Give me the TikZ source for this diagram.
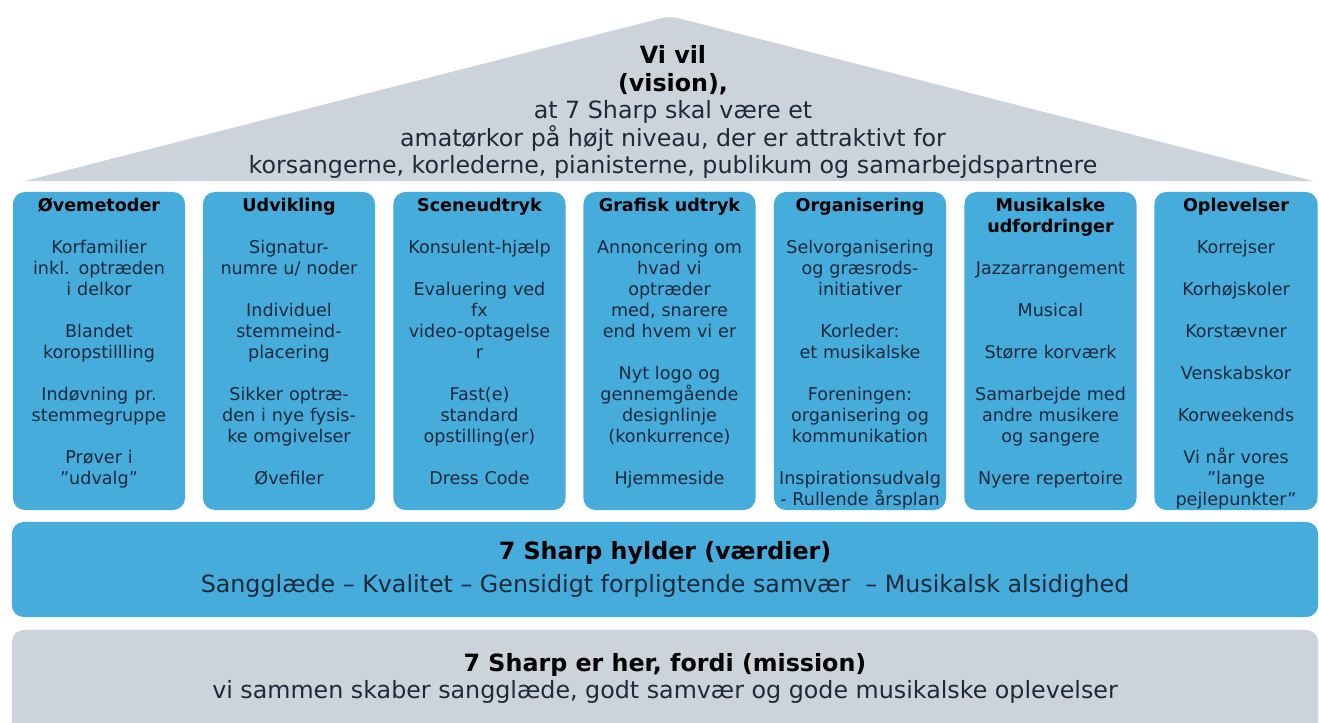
\documentclass[tikz,border=0pt]{standalone}
\usepackage{fontspec}
\setmainfont{DejaVu Sans}
\usepackage{tikz}
\usetikzlibrary{positioning}
\definecolor{pillarblue}{RGB}{70,172,220}
\definecolor{roofgray}{RGB}{205,211,218}
\definecolor{inkc}{RGB}{30,42,58}
\newcommand{\colgap}{\\[14.94pt]}
\newcommand{\coltitle}[1]{\rule{0pt}{12pt}\textbf{\color{black}#1}}

\begin{document}
\begin{tikzpicture}[x=0.025cm, y=-0.025cm,
  pillar/.style={fill=pillarblue, rounded corners=0.3cm, minimum height=7.95cm, inner sep=0pt},
  pillartext/.style={text width=4.3cm, align=center, inner sep=0pt, text=inkc, font=\fontsize{12.5}{14.94}\selectfont},
  bigtext/.style={align=center, inner sep=0pt, text=inkc, font=\fontsize{16.9}{19.56}\selectfont}]
%%%%% Frame %%%%%
\useasboundingbox[fill=white] (0,0) rectangle (1319,722);
%%%%% Roof %%%%%
\fill[roofgray] (25,181) [rounded corners=6pt] -- (670,16) [sharp corners] -- (1313,181) -- cycle;
\node[bigtext] (vision) at (673,112) {\textbf{\color{black}Vi vil}\\ \textbf{\color{black}(vision),}\\ at 7 Sharp skal være et\\ amatørkor på højt niveau, der er attraktivt for\\ korsangerne, korlederne, pianisterne, publikum og samarbejdspartnere};
%%%%% Pillars %%%%%
\foreach \i/\cx/\w in {1/99/4.3, 2/289/4.3, 3/479.5/4.3, 4/669.5/4.3, 5/860/4.3, 6/1050.5/4.3, 7/1236/4.075}{
\node[pillar, minimum width=\w cm] (col\i) at (\cx,351) {};
}
\node[pillartext, below=0.06cm of col1.north] (t1) {\coltitle{Øvemetoder}\colgap Korfamilier\\ inkl. optræden\\ i delkor\colgap Blandet\\ koropstillling\colgap Indøvning pr.\\ stemmegruppe\colgap Prøver i\\ ”udvalg”};
\node[pillartext, below=0.06cm of col2.north] (t2) {\coltitle{Udvikling}\colgap Signatur-\\ numre u/ noder\colgap Individuel\\ stemmeind-\\ placering\colgap Sikker optræ-\\ den i nye fysis-\\ ke omgivelser\colgap Øvefiler};
\node[pillartext, below=0.06cm of col3.north] (t3) {\coltitle{Sceneudtryk}\colgap Konsulent-hjælp\colgap Evaluering ved\\ fx\\ video-optagelse\\ r\colgap Fast(e)\\ standard\\ opstilling(er)\colgap Dress Code};
\node[pillartext, below=0.06cm of col4.north] (t4) {\coltitle{Grafisk udtryk}\colgap Annoncering om\\ hvad vi\\ optræder\\ med, snarere\\ end hvem vi er\colgap Nyt logo og\\ gennemgående\\ designlinje\\ (konkurrence)\colgap Hjemmeside};
\node[pillartext, below=0.06cm of col5.north] (t5) {\coltitle{Organisering}\colgap Selvorganisering\\ og græsrods-\\ initiativer\colgap Korleder:\\ et musikalske\colgap Foreningen:\\ organisering og\\ kommunikation\colgap Inspirationsudvalg\\ - Rullende årsplan};
\node[pillartext, below=0.06cm of col6.north] (t6) {\coltitle{Musikalske}\\ \textbf{\color{black}udfordringer}\colgap Jazzarrangement\colgap Musical\colgap Større korværk\colgap Samarbejde med\\ andre musikere\\ og sangere\colgap Nyere repertoire};
\node[pillartext, text width=4.075cm, below=0.06cm of col7.north] (t7) {\coltitle{Oplevelser}\colgap Korrejser\colgap Korhøjskoler\colgap Korstævner\colgap Venskabskor\colgap Korweekends\colgap Vi når vores\\ ”lange\\ pejlepunkter”};
%%%%% Values %%%%%
\node[pillar, minimum width=32.65cm, minimum height=2.375cm] (values) at (665,569.5) {};
\node[bigtext] (valtext) at (values.center) {\textbf{\color{black}7 Sharp hylder (værdier)}\\[3.9pt] Sangglæde – Kvalitet – Gensidigt forpligtende samvær\ \ – Musikalsk alsidighed};
%%%%% Mission %%%%%
\node[pillar, fill=roofgray, minimum width=32.65cm, minimum height=2.75cm] (mission) at (665,685) {};
\node[bigtext] (mistext) at (665,678.5) {\textbf{\color{black}7 Sharp er her, fordi (mission)}\\ vi sammen skaber sangglæde, godt samvær og gode musikalske oplevelser};
\end{tikzpicture}
\end{document}
